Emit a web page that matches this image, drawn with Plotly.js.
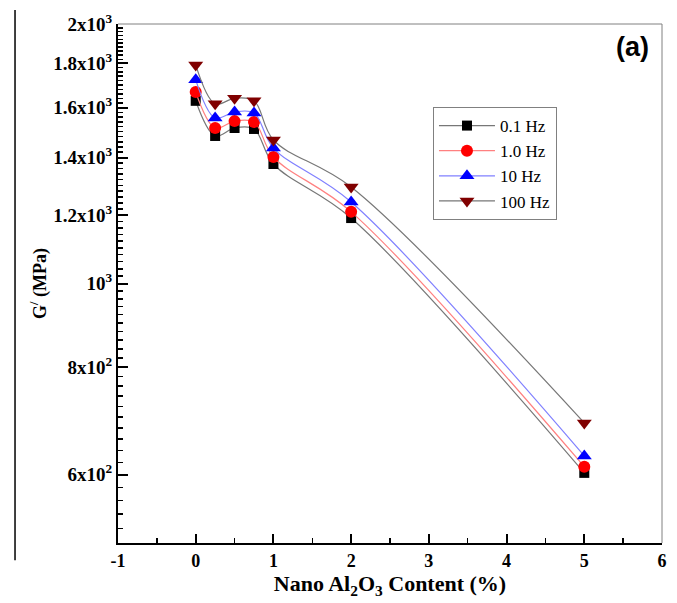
<!DOCTYPE html>
<html>
<head>
<meta charset="utf-8">
<script src="https://cdn.plot.ly/plotly-3.0.1.min.js"></script>
<style>
html,body{margin:0;padding:0;background:#fff;}
#chart{width:677px;height:603px;}
</style>
</head>
<body>
<div id="chart"></div>
<script>
const content = [0, 0.25, 0.5, 0.75, 1, 2, 5];
const g_01Hz  = [1629, 1483, 1515, 1511, 1376, 1191, 603];
const g_1Hz   = [1668, 1515, 1543, 1539, 1402, 1211, 613];
const g_10Hz  = [1723, 1556, 1581, 1577, 1436, 1243, 631];
const g_100Hz = [1793, 1616, 1640, 1629, 1467, 1294, 689];
const seriesNames = ["0.1 Hz", "1.0 Hz", "10 Hz", "100 Hz"];

const yTickVals = [600, 800, 1000, 1200, 1400, 1600, 1800, 2000];
const yTickText = ["6x10<sup>2</sup>", "8x10<sup>2</sup>", "10<sup>3</sup>", "1.2x10<sup>3</sup>",
                   "1.4x10<sup>3</sup>", "1.6x10<sup>3</sup>", "1.8x10<sup>3</sup>", "2x10<sup>3</sup>"];
const yMinorVals = [520,540,560,580,620,640,660,680,700,720,740,760,780,820,840,860,880,900,920,940,960,980,
  1020,1040,1060,1080,1100,1120,1140,1160,1180,1220,1240,1260,1280,1300,1320,1340,1360,1380,
  1420,1440,1460,1480,1500,1520,1540,1560,1580,1620,1640,1660,1680,1700,1720,1740,1760,1780,
  1820,1840,1860,1880,1900,1920,1940,1960,1980];
const xTickVals = [-1, 0, 1, 2, 3, 4, 5, 6];
const xTickText = ["-1", "0", "1", "2", "3", "4", "5", "6"];

const serif = "Liberation Serif";

function tr(y, name, lineColor, mColor, symbol, size) {
  return {
    x: content, y: y, name: name, type: 'scatter', mode: 'lines+markers',
    line: {color: lineColor, width: 1.2, shape: 'spline', smoothing: 1},
    marker: {color: mColor, symbol: symbol, size: size, line: {width: 0}}
  };
}

const data = [
  tr(g_01Hz, seriesNames[0], '#777777', '#000000', 'square', 10),
  tr(g_1Hz, seriesNames[1], '#ff8080', '#ff0000', 'circle', 12),
  tr(g_10Hz, seriesNames[2], '#8080ff', '#0000ff', 'triangle-up', 13),
  tr(g_100Hz, seriesNames[3], '#777777', '#800000', 'triangle-down', 13)
];

const layout = {
  width: 677, height: 603,
  margin: {l: 118, r: 15, t: 24, b: 60},
  paper_bgcolor: '#ffffff', plot_bgcolor: '#ffffff',
  font: {family: serif, color: '#000'},
  showlegend: true,
  legend: {
    x: 0.579, y: 0.84, xanchor: 'left', yanchor: 'top',
    bordercolor: '#808080', borderwidth: 1, bgcolor: '#ffffff',
    font: {family: serif, size: 17, color: '#000'},
    itemwidth: 56
  },
  xaxis: {
    type: 'linear', range: [-1, 6],
    tickmode: 'array', tickvals: xTickVals, ticktext: xTickText,
    ticks: 'inside', ticklen: 9, tickwidth: 2, tickcolor: '#000',
    minor: {tickmode: 'linear', tick0: -0.5, dtick: 1, ticks: 'inside', ticklen: 5, tickwidth: 1.5, tickcolor: '#000'},
    showline: true, linecolor: '#000', linewidth: 2, mirror: false,
    showgrid: false, zeroline: false,
    tickfont: {family: serif, size: 18, color: '#000', weight: 'bold'},
    title: {text: 'Nano Al<sub>2</sub>O<sub>3</sub> Content (%)', font: {family: serif, size: 22, color: '#000', weight: 'bold'}, standoff: 6}
  },
  yaxis: {
    type: 'log', range: [Math.log10(500), Math.log10(2000)],
    tickmode: 'array', tickvals: yTickVals, ticktext: yTickText,
    ticks: 'inside', ticklen: 10, tickwidth: 2, tickcolor: '#000',
    minor: {tickmode: 'array', tickvals: yMinorVals, ticks: 'inside', ticklen: 5, tickwidth: 1.5, tickcolor: '#000'},
    showline: true, linecolor: '#000', linewidth: 2, mirror: false,
    showgrid: false, zeroline: false,
    tickfont: {family: serif, size: 19, color: '#000', weight: 'bold'},
    title: {text: 'G<sup>/</sup> (MPa)', font: {family: serif, size: 18, color: '#000', weight: 'bold'}, standoff: 2}
  },
  shapes: [
    {type: 'line', xref: 'paper', yref: 'paper', x0: 0, x1: 1, y0: 1, y1: 1, line: {color: '#808080', width: 1}},
    {type: 'line', xref: 'paper', yref: 'paper', x0: 1, x1: 1, y0: 0, y1: 1, line: {color: '#808080', width: 1}},
    {type: 'line', xref: 'paper', yref: 'paper', x0: -0.1893, x1: -0.1893, y0: -0.033, y1: 1.027, line: {color: '#000', width: 1.5}}
  ],
  annotations: [
    {text: '(a)', xref: 'paper', yref: 'paper', x: 0.945, y: 0.955, xanchor: 'center', yanchor: 'middle',
     showarrow: false, font: {family: 'Liberation Sans', size: 27, color: '#000', weight: 'bold'}}
  ]
};

Plotly.newPlot('chart', data, layout, {displayModeBar: false, staticPlot: true});
</script>
</body>
</html>
